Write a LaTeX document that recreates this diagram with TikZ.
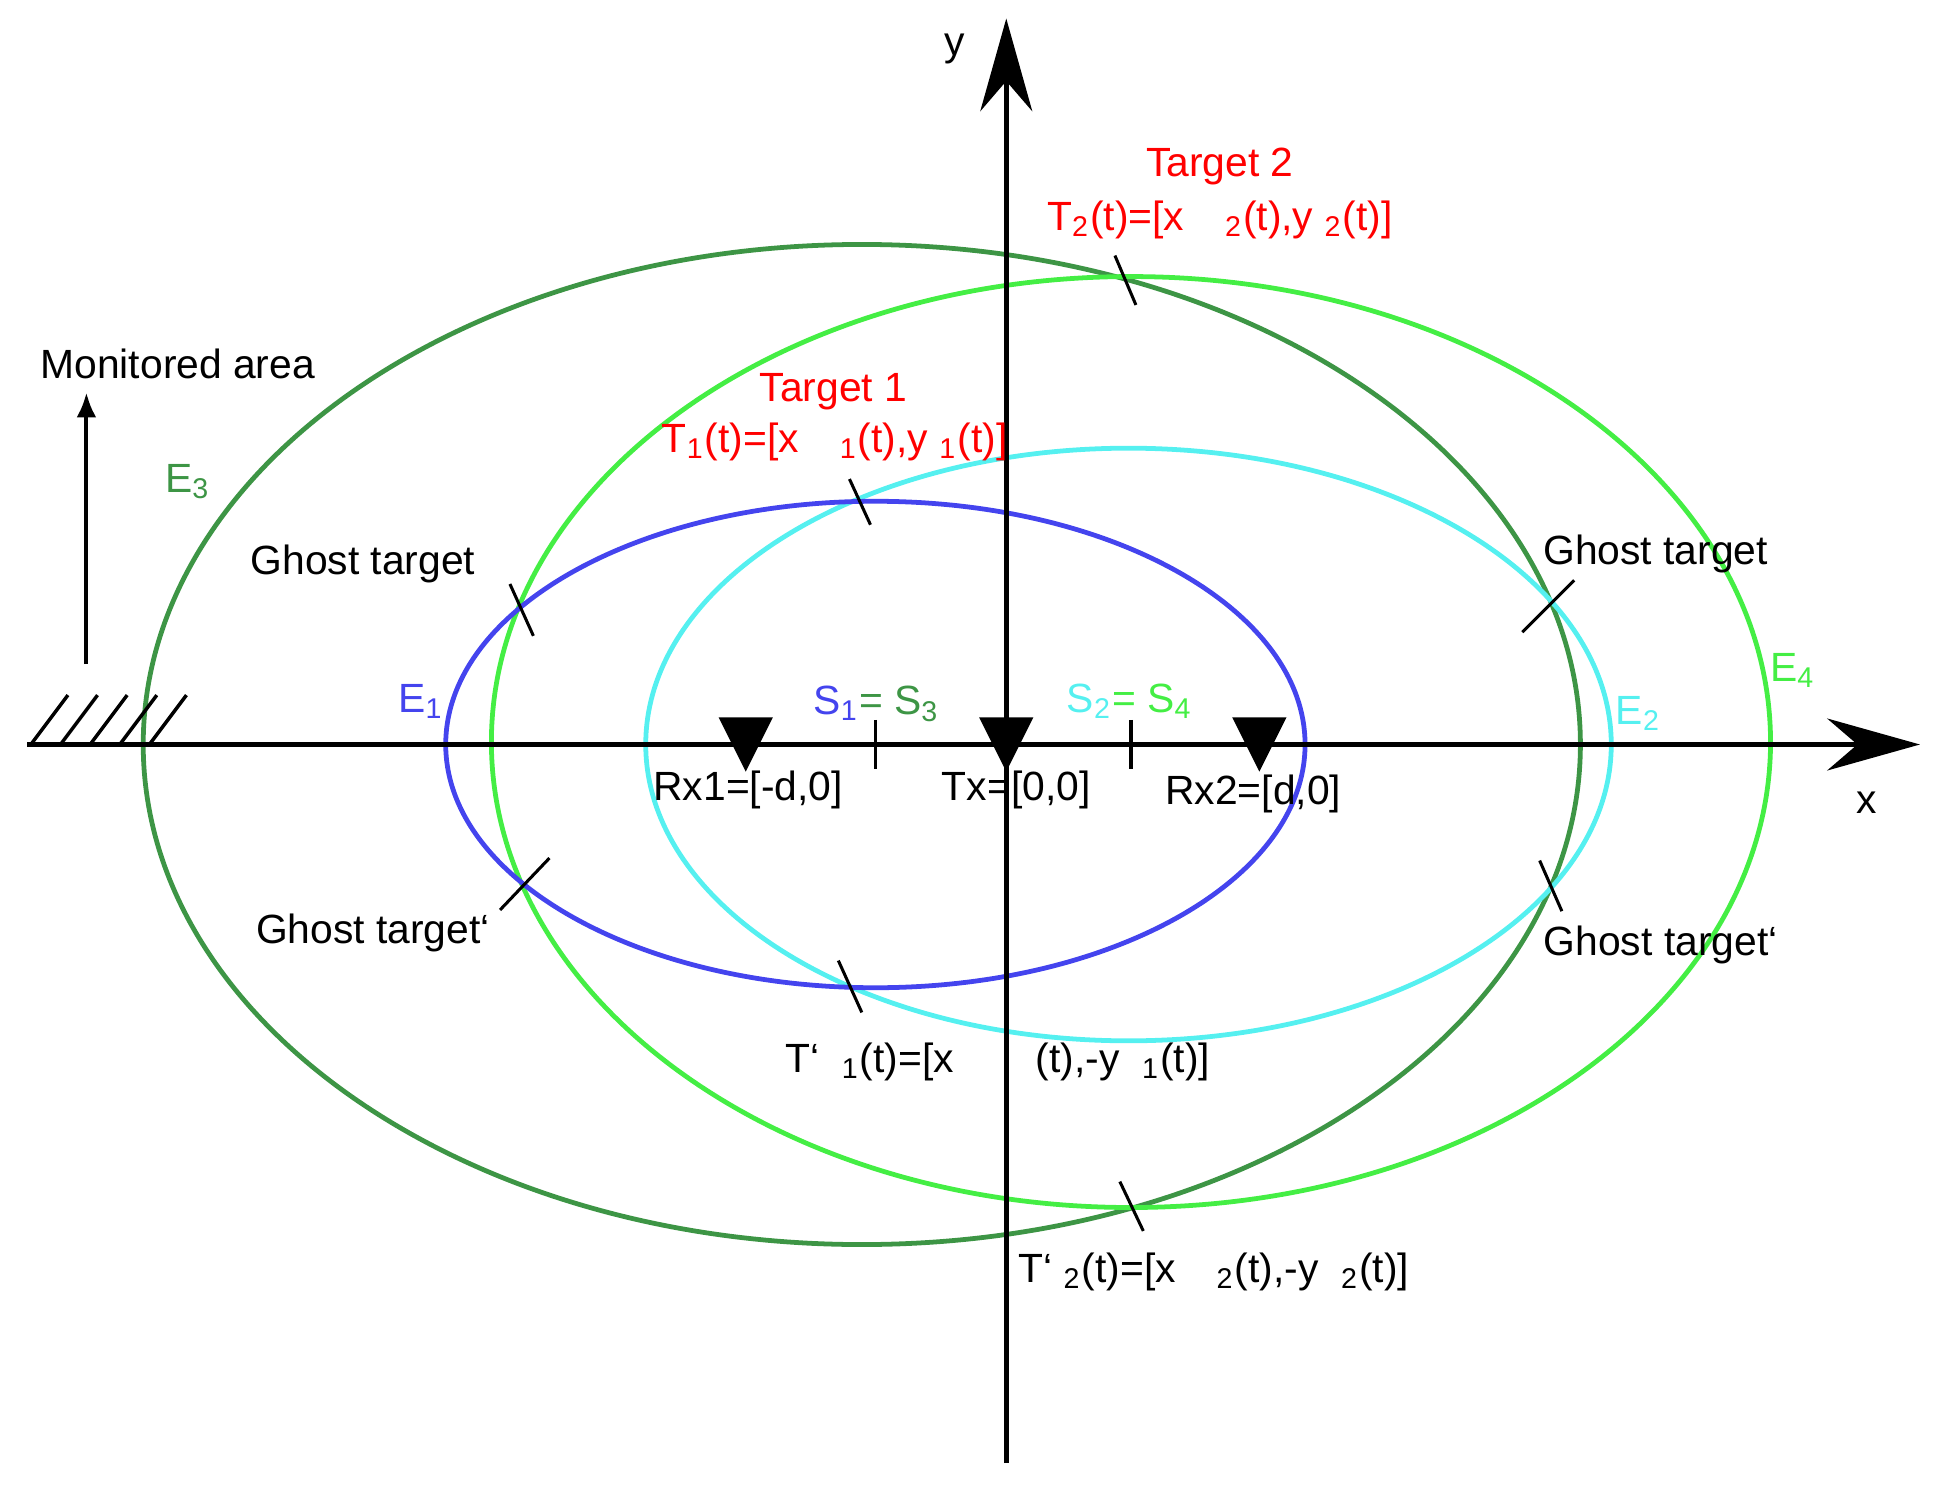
\documentclass[tikz,border=0pt]{standalone}
\usepackage{fontspec}
\setmainfont{Liberation Sans}
\usetikzlibrary{arrows.meta}
\definecolor{eblue}{HTML}{4444EE}
\definecolor{ecyan}{HTML}{55F0F0}
\definecolor{edark}{HTML}{3D9545}
\definecolor{egreen}{HTML}{44EE44}
\begin{document}
\begin{tikzpicture}[x=0.01cm,y=-0.01cm,
  lab/.style={font=\fontsize{9.4pt}{11pt}\selectfont,inner sep=0pt},
  ell/.style={line width=1.1pt},
  tick/.style={line width=0.7pt}]
\useasboundingbox (0,0) rectangle (1568,1210);
% ellipses
\draw[ell,edark] (698,603) ellipse [x radius=582,y radius=405];
\draw[ell,egreen] (916,601) ellipse [x radius=518,y radius=377];
\draw[ell,ecyan] (914,603) ellipse [x radius=391,y radius=240];
\draw[ell,eblue] (709,603) ellipse [x radius=348,y radius=197];
% axes
\coordinate (xs) at (22,603); \coordinate (xe) at (1555,603);
\coordinate (ys) at (815,1185); \coordinate (ye) at (815,15);
\draw[line width=1.2pt,-{Stealth[length=0.75cm,width=0.42cm]}] (xs) -- (xe);
\draw[line width=1.2pt,-{Stealth[length=0.75cm,width=0.42cm]}] (ys) -- (ye);
% hatch
\foreach \x in {25,49,73,97,121}{\draw[line width=0.8pt] (\x,603) -- ++(30,-40);}
% monitored area arrow
\coordinate (ma) at (70,538); \coordinate (mb) at (70,318);
\draw[line width=0.9pt,-{Latex[length=0.2cm,width=0.16cm]}] (ma) -- (mb);
% triangles
\foreach \x in {604,815,1020}{\fill (\x-22,581) -- (\x+22,581) -- (\x,625) -- cycle;}
% ticks
\draw[tick] (709,583) -- (709,623);
\draw[tick] (916,583) -- (916,623);
% slash marks
\draw[tick] (903,207) -- (920,247);
\draw[tick] (688,388) -- (705,425);
\draw[tick] (413,473) -- (432,515);
\draw[tick] (1233,512) -- (1275,470);
\draw[tick] (445,695) -- (405,737);
\draw[tick] (1247,697) -- (1265,738);
\draw[tick] (679,778) -- (698,820);
\draw[tick] (907,957) -- (926,997);
% labels
\node[lab] (ly) at (773,40) {y};
\node[lab] (lx) at (1512,650) {x};
\node[lab,red] (t2) at (988,135) {Target 2};
\node[lab,red] (t2e) at (988,178) {T\textsubscript{2}(t)=[x\quad\textsubscript{2}(t),y\ \textsubscript{2}(t)]};
\node[lab,red] (t1) at (675,317) {Target 1};
\node[lab,red] (t1e) at (676,358) {T\textsubscript{1}(t)=[x\quad\textsubscript{1}(t),y\ \textsubscript{1}(t)]};
\node[lab] (mon) at (144,295) {Monitored area};
\node[lab,edark] (e3) at (152,390) {E\textsubscript{3}};
\node[lab,eblue] (e1) at (341,568) {E\textsubscript{1}};
\node[lab,ecyan] (e2) at (1327,578) {E\textsubscript{2}};
\node[lab,egreen] (e4) at (1452,543) {E\textsubscript{4}};
\node[lab] (g1) at (294,457) {Ghost target};
\node[lab] (g2) at (1341,449) {Ghost target};
\node[lab] (g3) at (302,756) {Ghost target`};
\node[lab] (g4) at (1345,765) {Ghost target`};
\node[lab] (s13) at (710,570) {\textcolor{eblue}{S\textsubscript{1}}\textcolor{edark}{= S\textsubscript{3}}};
\node[lab] (s24) at (915,568) {\textcolor{ecyan}{S\textsubscript{2}}\textcolor{egreen}{= S\textsubscript{4}}};
\node[lab] (rx1) at (606,640) {Rx1=[-d,0]};
\node[lab] (tx) at (823,640) {Tx=[0,0]};
\node[lab] (rx2) at (1015,643) {Rx2=[d,0]};
\node[lab] (tp1) at (808,860) {T`\ \ \textsubscript{1}(t)=[x\qquad(t),-y\ \ \textsubscript{1}(t)]};
\node[lab] (tp2) at (983,1030) {T`\ \textsubscript{2}(t)=[x\quad\textsubscript{2}(t),-y\ \ \textsubscript{2}(t)]};
\end{tikzpicture}
\end{document}
